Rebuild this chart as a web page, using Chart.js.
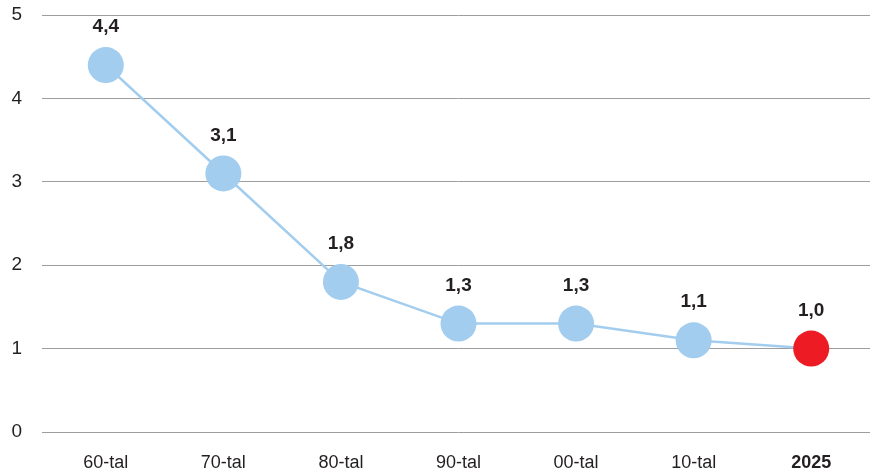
<!DOCTYPE html>
<html>
<head>
<meta charset="utf-8">
<script src="https://cdn.jsdelivr.net/npm/chart.js@4/dist/chart.umd.min.js"></script>
<style>
    html, body { margin: 0; padding: 0; background: #fff; overflow: hidden; }
    canvas { display: block; }
</style>
</head>
<body>
<canvas id="chart" width="873" height="476"></canvas>
<script>
// Data
const categories = ['60-tal', '70-tal', '80-tal', '90-tal', '00-tal', '10-tal', '2025'];
const values = [4.4, 3.1, 1.8, 1.3, 1.3, 1.1, 1.0];
const yTicks = [0, 1, 2, 3, 4, 5];

const BLUE = '#a3cdee';
const RED = '#ed1c24';
const lastIndex = categories.length - 1;

// Value labels above points, with decimal comma
const valueLabels = {
    id: 'valueLabels',
    afterDatasetsDraw(chart) {
        const { ctx } = chart;
        const meta = chart.getDatasetMeta(0);
        ctx.save();
        ctx.font = 'bold 19px "Liberation Sans", Arial, sans-serif';
        ctx.fillStyle = '#231f20';
        ctx.textAlign = 'center';
        ctx.textBaseline = 'middle';
        meta.data.forEach((pt, i) => {
            ctx.fillText(values[i].toFixed(1).replace('.', ','), pt.x, pt.y - 38);
        });
        ctx.restore();
    }
};

const ctx = document.getElementById('chart').getContext('2d');
new Chart(ctx, {
    type: 'line',
    data: {
        labels: categories,
        datasets: [{
            data: values,
            borderColor: BLUE,
            borderWidth: 2.5,
            pointRadius: 18,
            pointHoverRadius: 18,
            pointBorderWidth: 0,
            pointBackgroundColor: values.map((v, i) => i === lastIndex ? RED : BLUE),
            tension: 0,
            clip: false
        }]
    },
    options: {
        responsive: false,
        animation: false,
        layout: { autoPadding: false, padding: { top: 15, right: 3, bottom: 0, left: 0 } },
        plugins: {
            legend: { display: false },
            tooltip: { enabled: false }
        },
        scales: {
            x: {
                offset: true,
                grid: { display: false, tickLength: 0 },
                border: { display: false },
                afterFit: (scale) => {
                    scale.height = 44;
                    scale.paddingLeft = 0;
                    scale.paddingRight = 0;
                },
                ticks: {
                    padding: 20,
                    color: '#231f20',
                    font: (c) => ({
                        family: '"Liberation Sans", Arial, sans-serif',
                        size: 18,
                        weight: c.index === lastIndex ? 'bold' : 'normal'
                    })
                }
            },
            y: {
                min: 0,
                max: 5,
                afterBuildTicks: (scale) => {
                    scale.ticks = yTicks.map(v => ({ value: v }));
                },
                afterFit: (scale) => {
                    scale.width = 47;
                    scale.paddingTop = 0;
                    scale.paddingBottom = 0;
                },
                grid: { color: '#9d9d9d', lineWidth: 1, tickLength: 5 },
                border: { display: false },
                ticks: {
                    padding: 20,
                    color: '#231f20',
                    font: { family: '"Liberation Sans", Arial, sans-serif', size: 19 }
                }
            }
        }
    },
    plugins: [valueLabels]
});
</script>
</body>
</html>
